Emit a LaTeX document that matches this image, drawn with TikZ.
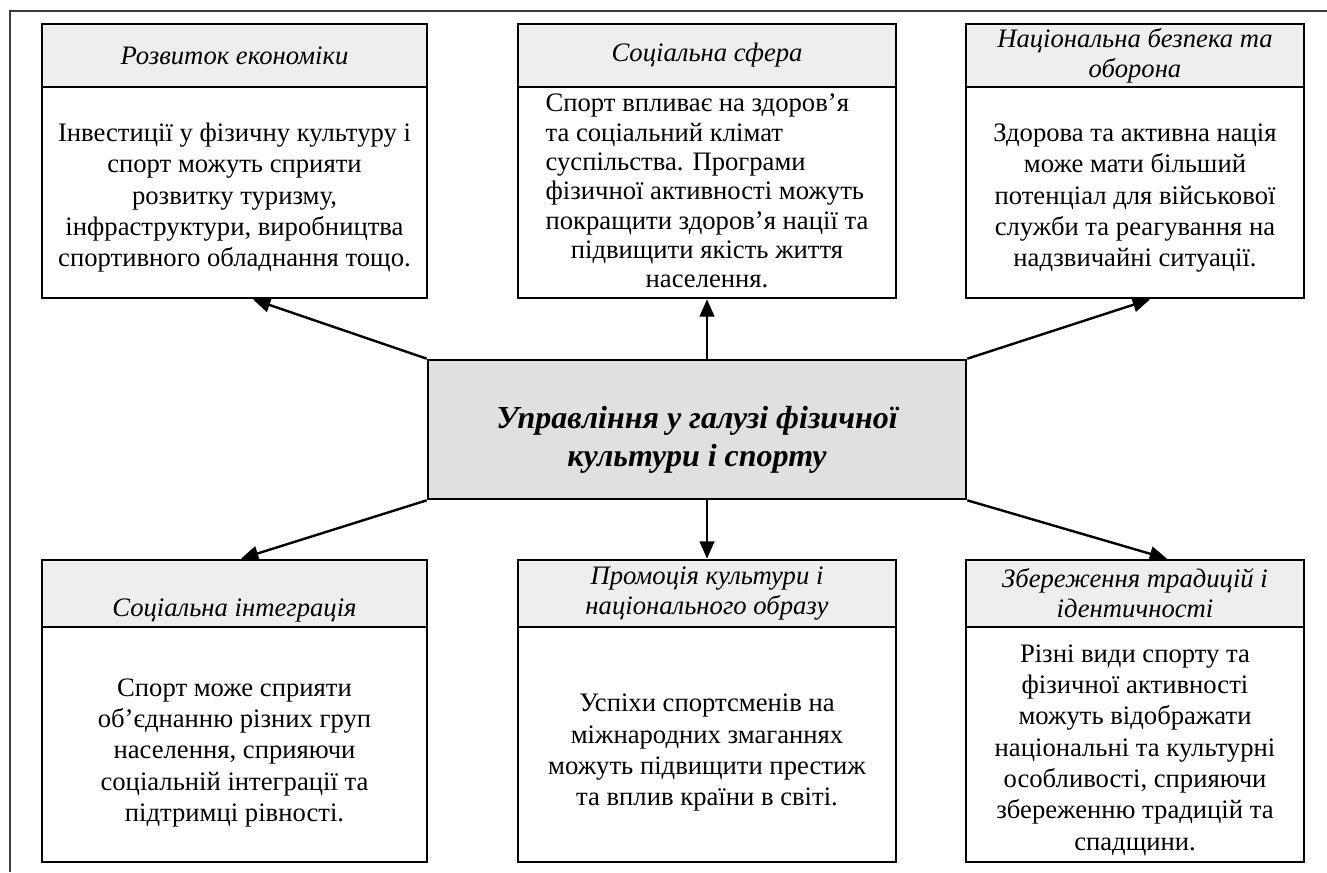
\documentclass[tikz,border=0pt]{standalone}
\usepackage{fontspec}
\setmainfont{Liberation Serif}
\usetikzlibrary{arrows.meta,calc}
\definecolor{hdrfill}{RGB}{238,238,238}
\definecolor{cfill}{RGB}{224,224,224}
\definecolor{framec}{RGB}{60,60,60}
\newcommand{\celltext}[2]{\raisebox{#1}[\height][\depth]{\begin{tabular}{@{}c@{}}#2\end{tabular}}}
\begin{document}
\begin{tikzpicture}[x=0.75pt,y=-0.75pt,
  box/.style={draw=black,line width=2pt,inner sep=0pt},
  hdr/.style={box,align=center,fill=hdrfill,font=\fontsize{20}{22.5}\selectfont\itshape},
  hdrtop/.style={hdr,minimum height=47.25pt},
  hdrbot/.style={hdr,minimum height=50.25pt},
  body/.style={box,font=\fontsize{20}{23.5}\selectfont},
  bodytop/.style={body,minimum height=158.25pt},
  bodybot/.style={body,minimum height=176.25pt},
  wa/.style={minimum width=288.75pt},
  wb/.style={minimum width=283.5pt},
  wc/.style={minimum width=253.5pt},
  central/.style={box,fill=cfill,minimum width=403.5pt,minimum height=104.25pt,
    font=\fontsize{24}{28.5}\selectfont\bfseries\itshape},
  arr/.style={line width=1.8pt,-{Triangle[length=13pt,width=11pt]}}
]
\useasboundingbox (0,0) rectangle (1327,872);
\draw[framec,line width=2pt] (1327,11) -- (10,11) -- (10,872);

% top row
\node[hdrtop,wa] (h1) at (234.5,55.5) {Розвиток економіки};
\node[bodytop,wa] (b1) at (234.5,192.5) {\celltext{-4pt}{Інвестиції у фізичну культуру і\\спорт можуть сприяти\\розвитку туризму,\\інфраструктури, виробництва\\спортивного обладнання тощо.}};
\node[hdrtop,wb] (h2) at (707,55.5) {Соціальна сфера};
\node[bodytop,wb,font=\fontsize{20}{22}\selectfont] (b2) at (707,192.5) {\celltext{-1pt}{\begin{tabular}[b]{@{}l@{}}Спорт впливає на здоров’я\\та соціальний клімат\\суспільства. Програми\\фізичної активності можуть\\покращити здоров’я нації та\end{tabular}\\підвищити якість життя\\населення.}};
\node[hdrtop,wc] (h3) at (1135,55.5) {Національна безпека та\\оборона};
\node[bodytop,wc] (b3) at (1135,192.5) {\celltext{-4pt}{Здорова та активна нація\\може мати більший\\потенціал для військової\\служби та реагування на\\надзвичайні ситуації.}};

% central
\node[central] (c) at (697,429.5) {\celltext{-8pt}{Управління у галузі фізичної\\культури і спорту}};

% bottom row
\node[hdrbot,wa] (h4) at (234.5,593.5) {\strut\\Соціальна інтеграція};
\node[bodybot,wa] (b4) at (234.5,744.5) {\celltext{-6pt}{Спорт може сприяти\\об’єднанню різних груп\\населення, сприяючи\\соціальній інтеграції та\\підтримці рівності.}};
\node[hdrbot,wb] (h5) at (707,593.5) {Промоція культури і\\національного образу};
\node[bodybot,wb] (b5) at (707,744.5) {\celltext{-6pt}{Успіхи спортсменів на\\міжнародних змаганнях\\можуть підвищити престиж\\та вплив країни в світі.}};
\node[hdrbot,wc] (h6) at (1135,593.5) {Збереження традицій і\\ідентичності};
\node[bodybot,wc] (b6) at (1135,744.5) {\celltext{-4pt}{Різні види спорту та\\фізичної активності\\можуть відображати\\національні та культурні\\особливості, сприяючи\\збереженню традицій та\\спадщини.}};

% arrows
\draw[arr] (c.north west) -- ($(b1.south)+(18.5,0)$);
\draw[arr] (b2.south |- c.north) -- (b2.south);
\draw[arr] (c.north east) -- ($(b3.south)+(15,0)$);
\draw[arr] (c.south west) -- ($(h4.north)+(6.5,0)$);
\draw[arr] (h5.north |- c.south) -- (h5.north);
\draw[arr] (c.south east) -- ($(h6.north)+(32,0)$);
\end{tikzpicture}
\end{document}
